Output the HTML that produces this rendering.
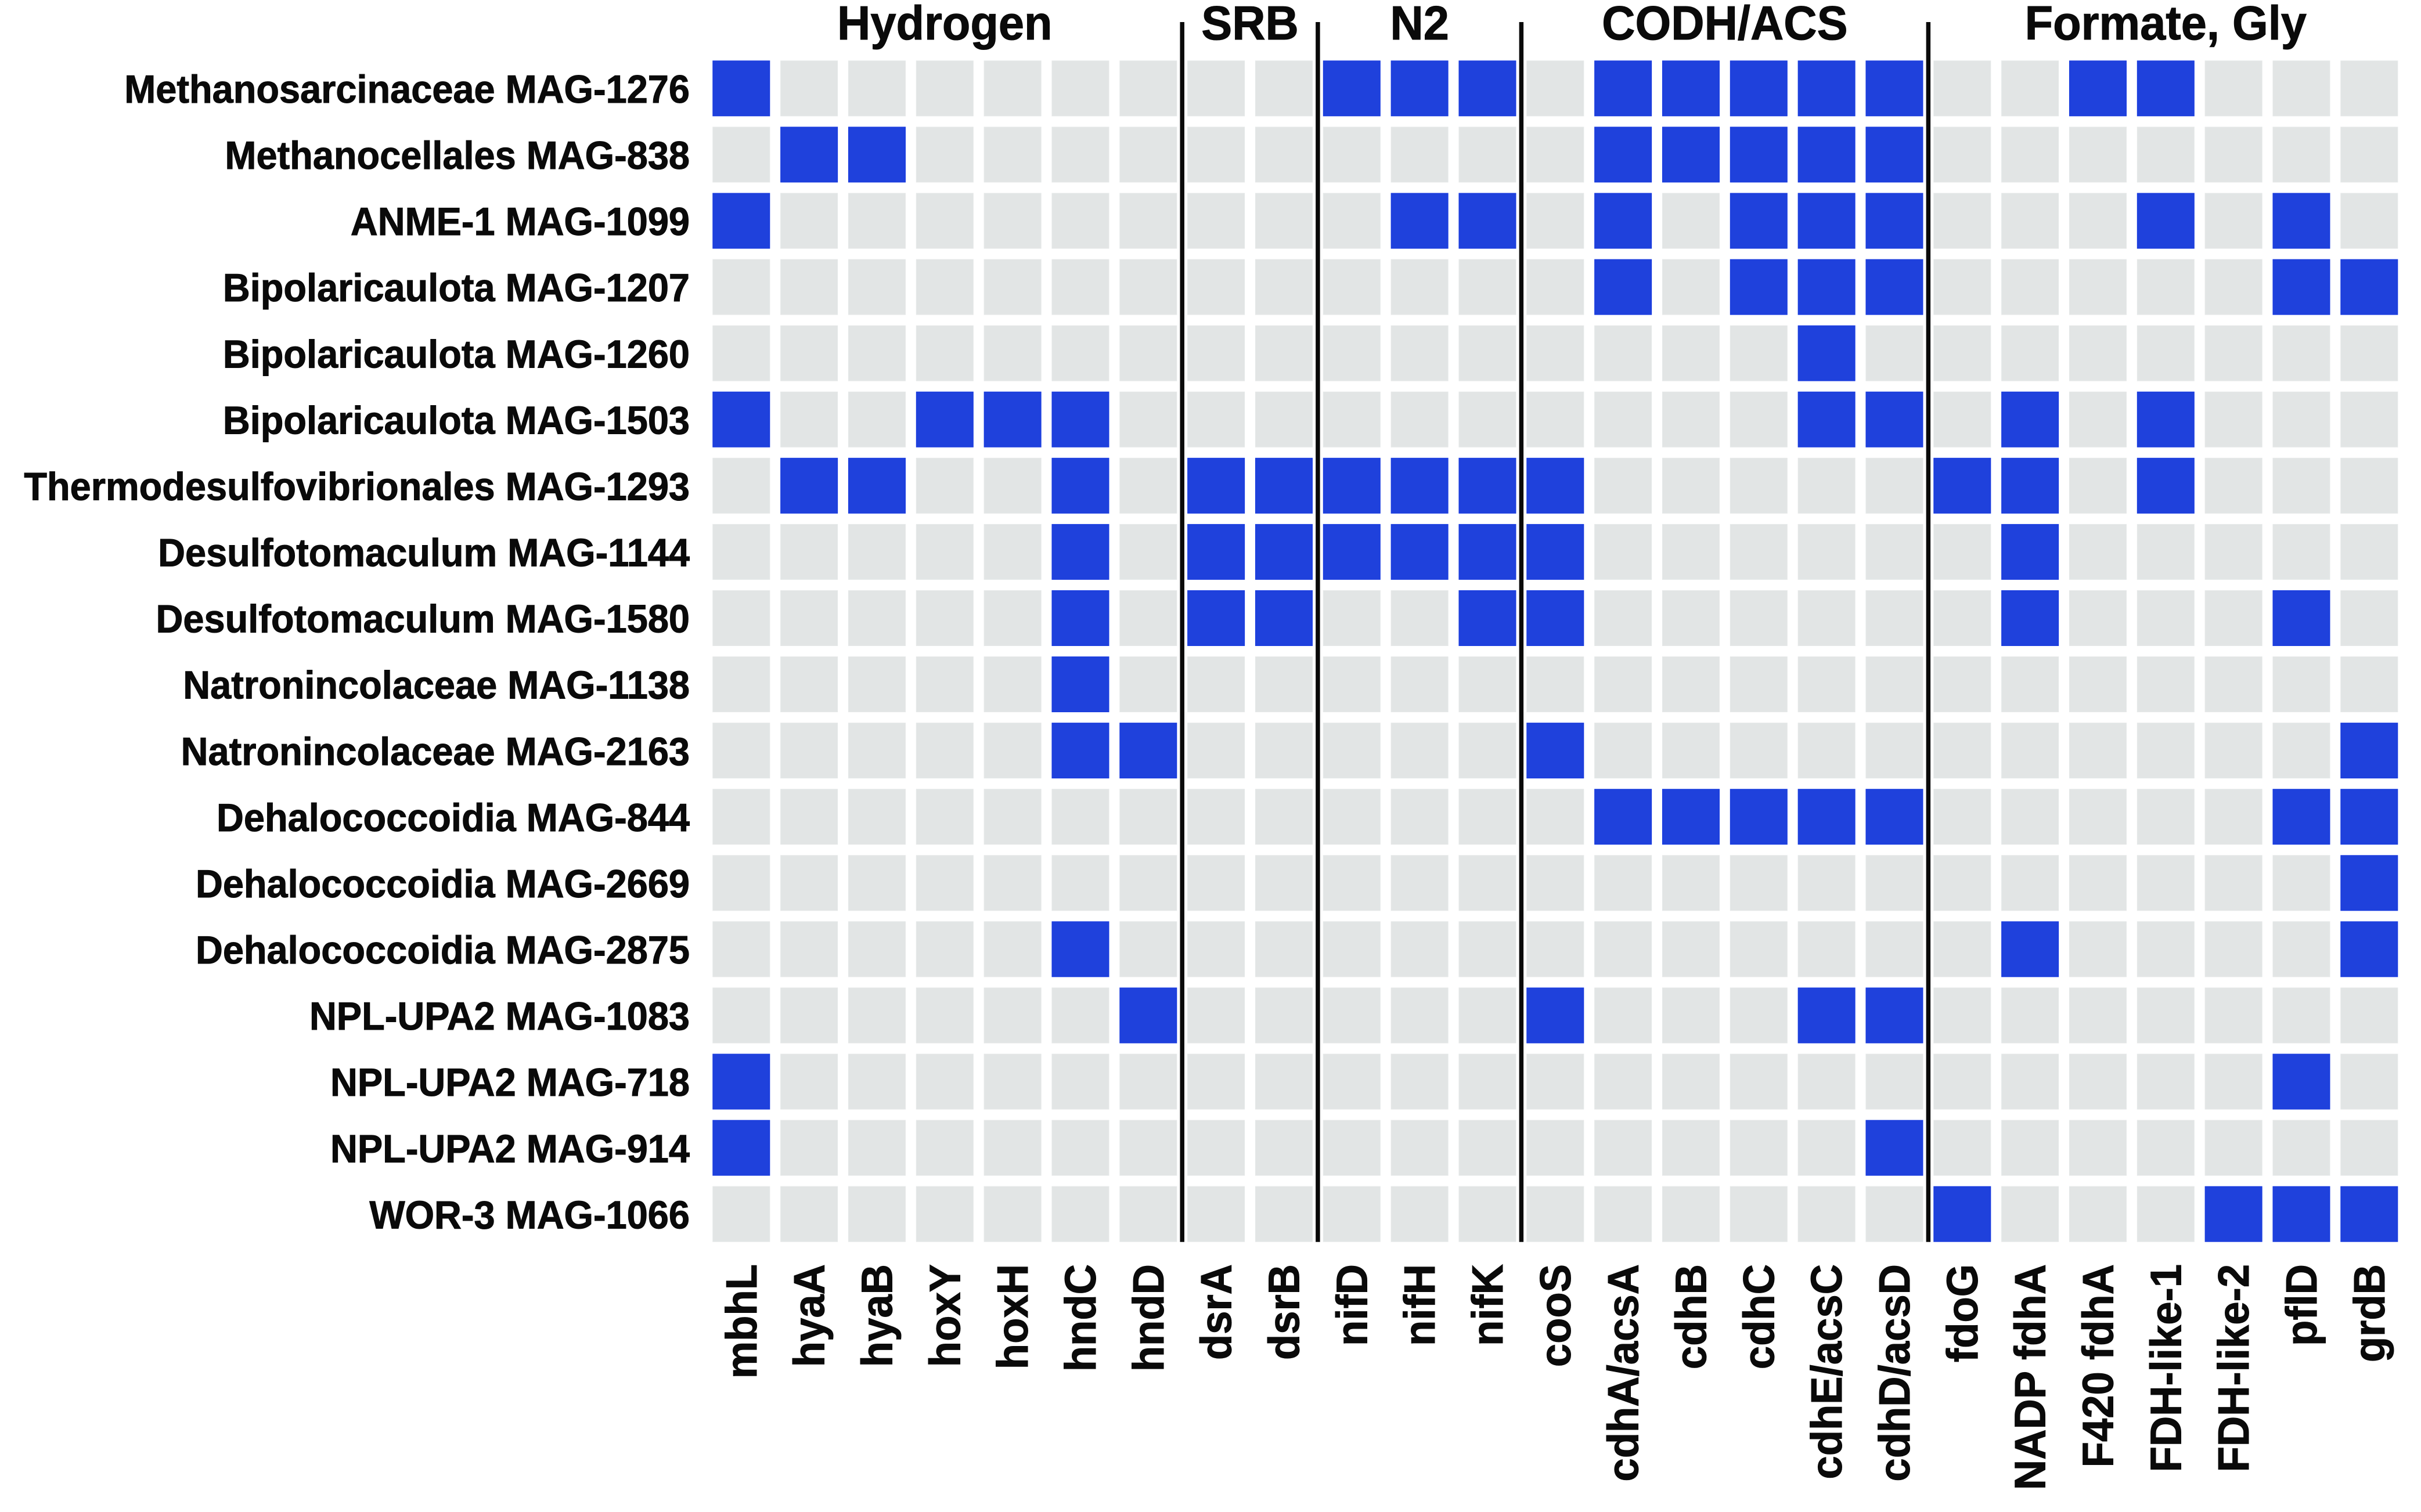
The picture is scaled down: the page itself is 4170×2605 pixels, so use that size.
<!DOCTYPE html>
<html lang="en">
<head>
<meta charset="utf-8">
<title>Metabolic gene presence across MAGs</title>
<style>
html,body{margin:0;padding:0;background:#fff;}
svg{display:block;}
text{font-family:"Liberation Sans",Arial,sans-serif;font-weight:700;fill:#0a0a0a;stroke:#0a0a0a;stroke-width:1;}
</style>
</head>
<body>
<svg id="chart" xmlns="http://www.w3.org/2000/svg" width="4170" height="2605" viewBox="0 0 4170 2605">
<rect x="0" y="0" width="4170" height="2605" fill="#ffffff"/>
</svg>
<script>
const mags = [
  "Methanosarcinaceae MAG-1276","Methanocellales MAG-838","ANME-1 MAG-1099",
  "Bipolaricaulota MAG-1207","Bipolaricaulota MAG-1260","Bipolaricaulota MAG-1503",
  "Thermodesulfovibrionales MAG-1293","Desulfotomaculum MAG-1144","Desulfotomaculum MAG-1580",
  "Natronincolaceae MAG-1138","Natronincolaceae MAG-2163","Dehalococcoidia MAG-844",
  "Dehalococcoidia MAG-2669","Dehalococcoidia MAG-2875","NPL-UPA2 MAG-1083",
  "NPL-UPA2 MAG-718","NPL-UPA2 MAG-914","WOR-3 MAG-1066"
];
const genes = [
  "mbhL","hyaA","hyaB","hoxY","hoxH","hndC","hndD","dsrA","dsrB","nifD","nifH","nifK","cooS",
  "cdhA/acsA","cdhB","cdhC","cdhE/acsC","cdhD/acsD","fdoG","NADP fdhA","F420 fdhA",
  "FDH-like-1","FDH-like-2","pflD","grdB"
];
const groupNames = ["Hydrogen","SRB","N2","CODH/ACS","Formate, Gly"];
const groupSizes = [7,2,3,6,7];
const presence = [
  [1,0,0,0,0,0,0,0,0,1,1,1,0,1,1,1,1,1,0,0,1,1,0,0,0],
  [0,1,1,0,0,0,0,0,0,0,0,0,0,1,1,1,1,1,0,0,0,0,0,0,0],
  [1,0,0,0,0,0,0,0,0,0,1,1,0,1,0,1,1,1,0,0,0,1,0,1,0],
  [0,0,0,0,0,0,0,0,0,0,0,0,0,1,0,1,1,1,0,0,0,0,0,1,1],
  [0,0,0,0,0,0,0,0,0,0,0,0,0,0,0,0,1,0,0,0,0,0,0,0,0],
  [1,0,0,1,1,1,0,0,0,0,0,0,0,0,0,0,1,1,0,1,0,1,0,0,0],
  [0,1,1,0,0,1,0,1,1,1,1,1,1,0,0,0,0,0,1,1,0,1,0,0,0],
  [0,0,0,0,0,1,0,1,1,1,1,1,1,0,0,0,0,0,0,1,0,0,0,0,0],
  [0,0,0,0,0,1,0,1,1,0,0,1,1,0,0,0,0,0,0,1,0,0,0,1,0],
  [0,0,0,0,0,1,0,0,0,0,0,0,0,0,0,0,0,0,0,0,0,0,0,0,0],
  [0,0,0,0,0,1,1,0,0,0,0,0,1,0,0,0,0,0,0,0,0,0,0,0,1],
  [0,0,0,0,0,0,0,0,0,0,0,0,0,1,1,1,1,1,0,0,0,0,0,1,1],
  [0,0,0,0,0,0,0,0,0,0,0,0,0,0,0,0,0,0,0,0,0,0,0,0,1],
  [0,0,0,0,0,1,0,0,0,0,0,0,0,0,0,0,0,0,0,1,0,0,0,0,1],
  [0,0,0,0,0,0,1,0,0,0,0,0,1,0,0,0,1,1,0,0,0,0,0,0,0],
  [1,0,0,0,0,0,0,0,0,0,0,0,0,0,0,0,0,0,0,0,0,0,0,1,0],
  [1,0,0,0,0,0,0,0,0,0,0,0,0,0,0,0,0,1,0,0,0,0,0,0,0],
  [0,0,0,0,0,0,0,0,0,0,0,0,0,0,0,0,0,0,1,0,0,0,1,1,1]
];

const SVG_NS = "http://www.w3.org/2000/svg";
const chart = document.getElementById("chart");
const plotLeft = 1227.3, plotRight = 4130.3, plotTop = 104.3, plotBottom = 2139.7;
const cellW = 99, cellH = 96;
const colStep = (plotRight - cellW - plotLeft) / (genes.length - 1);
const rowStep = (plotBottom - cellH - plotTop) / (mags.length - 1);
const xScale = i => plotLeft + i * colStep;
const yScale = j => plotTop + j * rowStep;
const colorScale = v => v ? "#1f41dc" : "#e2e5e5";
const edgeScale = v => v ? "#1538e0" : "#e5e8e8";

function svgEl(tag) { return document.createElementNS(SVG_NS, tag); }

presence.forEach((row, j) => {
  row.forEach((v, i) => {
    const r = svgEl("rect");
    r.setAttribute("x", xScale(i) + 0.5);
    r.setAttribute("y", yScale(j) + 0.5);
    r.setAttribute("width", cellW - 1);
    r.setAttribute("height", cellH - 1);
    r.setAttribute("fill", colorScale(v));
    r.setAttribute("stroke", edgeScale(v));
    r.setAttribute("stroke-width", "1");
    
    
    chart.appendChild(r);
  });
});

mags.forEach((name, j) => {
  const t = svgEl("text");
  t.textContent = name;
  t.setAttribute("font-size", "64.9");
  t.setAttribute("text-anchor", "end");
  t.setAttribute("transform", "translate(1188," + (yScale(j) + 72.7) + ") scale(1,1.05)");
  
  
  chart.appendChild(t);
});

genes.forEach((name, i) => {
  const t = svgEl("text");
  t.textContent = name;
  t.setAttribute("font-size", "72.5");
  t.setAttribute("text-anchor", "end");
  t.setAttribute("transform", "translate(" + (xScale(i) + cellW / 2 + 26) + ",2178) rotate(-90) scale(1,1.042)");
  
  
  chart.appendChild(t);
});

let startCol = 0;
groupNames.forEach((name, g) => {
  const endCol = startCol + groupSizes[g] - 1;
  const t = svgEl("text");
  t.textContent = name;
  t.setAttribute("font-size", "79.4");
  t.setAttribute("text-anchor", "middle");
  t.setAttribute("transform", "translate(" + ((xScale(startCol) + xScale(endCol) + cellW) / 2) + ",68) scale(1,1.043)");
  
  
  chart.appendChild(t);
  if (g < groupNames.length - 1) {
    const x = (xScale(endCol) + cellW + xScale(endCol + 1)) / 2;
    const l = svgEl("line");
    l.setAttribute("x1", x);
    l.setAttribute("x2", x);
    l.setAttribute("y1", 38);
    l.setAttribute("y2", plotBottom);
    l.setAttribute("stroke", "#0a0a0a");
    l.setAttribute("stroke-width", "7.5");
    
    
    chart.appendChild(l);
  }
  startCol = endCol + 1;
});
</script>
</body>
</html>
